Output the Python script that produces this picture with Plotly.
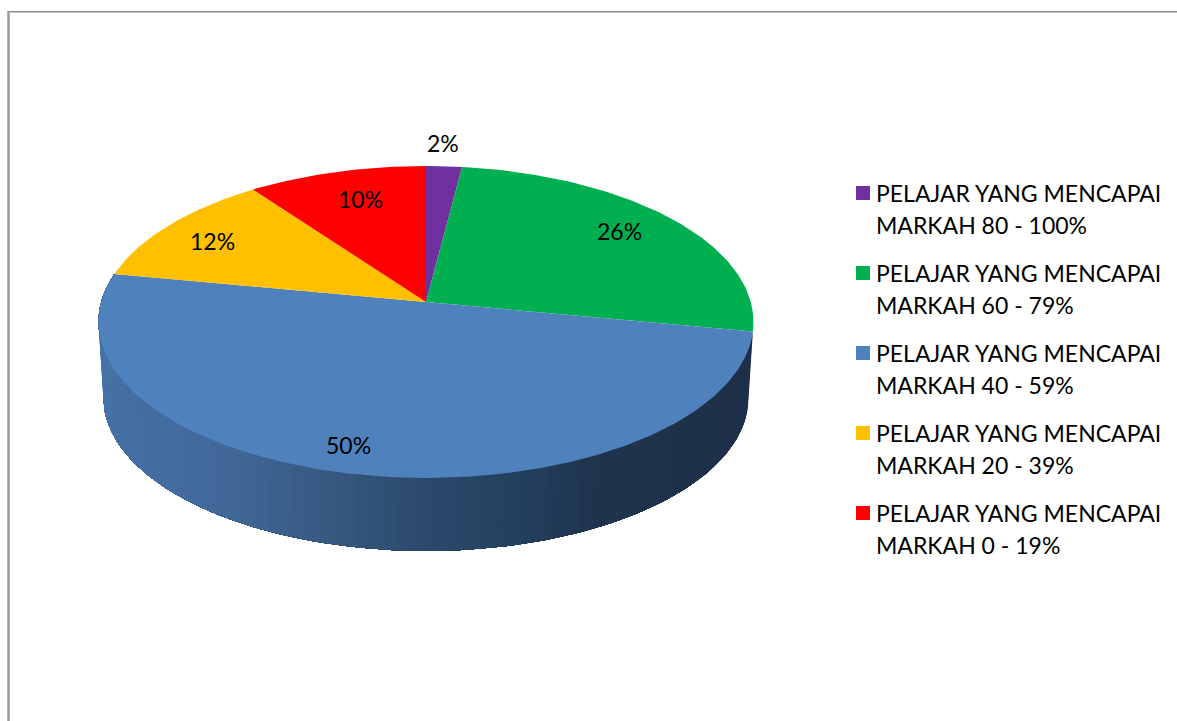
"""3D-looking pie of student marks, drawn as projected slices."""
import numpy as np
import plotly.graph_objects as go

line_one = ["PELAJAR YANG MENCAPAI"] * 5
line_two = ["MARKAH 80 - 100%", "MARKAH 60 - 79%", "MARKAH 40 - 59%", "MARKAH 20 - 39%", "MARKAH 0 - 19%"]
values = [2, 26, 50, 12, 10]
colors = ["#7030A0", "#00B050", "#4F81BD", "#FFC000", "#FF0000"]

# pie geometry in pixels, the rim is a perspective view of a circle
CX, CY = 426, 302
A, B, K = 324.8, 153.4, 0.128
DEPTH, SHRINK = 75.6, 0.985
FONT = "Lato"
FONT_SIZE = 23

label_pos = [(443, 143), (619, 231), (348.5, 445), (212.5, 241), (360.5, 199)]
legend_y = [193, 273, 353, 433, 513]
side_stops = [(104, "#4672A6"), (230, "#42689A"), (330, "#385A82"), (430, "#2B4A6C"),
              (520, "#24405F"), (600, "#1F344D"), (750, "#1E3049")]


def rim(theta, scale=1.0, dy=0.0):
    """Project angles (degrees clockwise from top) on to the page."""
    t = np.radians(theta)
    d = 1 + K * np.cos(t)
    return CX + scale * A * np.sin(t) / d, CY + dy - scale * B * np.cos(t) / d


def side_color(x):
    xs = [s[0] for s in side_stops]
    rgb = [[int(s[1][i:i + 2], 16) for s in side_stops] for i in (1, 3, 5)]
    return "rgb(%d,%d,%d)" % tuple(np.interp(x, xs, c) for c in rgb)


fig = go.Figure()
edges = np.cumsum([0] + values) * 3.6

# side wall of the big slice: each band runs to the far end and the next one paints over it
steps = np.arange(edges[2], edges[3], 1.5)
for a0 in steps:
    th = np.r_[np.arange(a0, edges[3], 1.5), edges[3]]
    x_top, y_top = rim(th)
    x_bot, y_bot = rim(th, SHRINK, DEPTH)
    x = np.r_[x_top, x_bot[::-1]]
    y = np.r_[y_top, y_bot[::-1]]
    col = side_color((x_top[0] + x_bot[0]) / 2)
    fig.add_trace(go.Scatter(x=x, y=y, mode="lines", fill="toself", fillcolor=col,
                             line=dict(width=0), hoverinfo="skip", showlegend=False))

# top faces
for i, v in enumerate(values):
    th = np.linspace(edges[i], edges[i + 1], max(int(v * 4), 8))
    x, y = rim(th)
    fig.add_trace(go.Scatter(x=np.r_[CX, x, CX], y=np.r_[CY, y, CY], mode="lines", fill="toself",
                             fillcolor=colors[i], line=dict(width=0), name=line_two[i],
                             text=f"{v}%", hoverinfo="text", showlegend=False))

# legend squares
fig.add_trace(go.Scatter(x=[863] * 5, y=legend_y, mode="markers", hoverinfo="skip", showlegend=False,
                         marker=dict(symbol="square", size=14, color=colors, line=dict(width=0))))

annotations = []
for v, (lx, ly) in zip(values, label_pos):
    annotations.append(dict(x=lx, y=ly, text=f"{v}%", showarrow=False, xref="x", yref="y",
                            font=dict(family=FONT, size=FONT_SIZE, color="black")))
for a, b, ly in zip(line_one, line_two, legend_y):
    for text, yy in ((a, ly), (b, ly + 32)):
        annotations.append(dict(x=874, y=yy, text=text, showarrow=False, xref="x", yref="y", xanchor="left",
                                font=dict(family=FONT, size=FONT_SIZE, color="black")))

fig.update_layout(
    width=1177, height=721,
    margin=dict(l=0, r=0, t=0, b=0),
    paper_bgcolor="white", plot_bgcolor="white",
    xaxis=dict(range=[0, 1177], visible=False, fixedrange=True),
    yaxis=dict(range=[721, 0], visible=False, fixedrange=True),
    annotations=annotations,
    shapes=[
        dict(type="line", x0=8, x1=1177, y0=11.7, y1=11.7, line=dict(color="#8C8C8C", width=1.5)),
        dict(type="line", x0=8.5, x1=8.5, y0=11, y1=721, line=dict(color="#999999", width=2.5)),
    ],
)
fig.write_html("out.html", config=dict(displayModeBar=False),
               post_script="document.body.style.margin='0';")
